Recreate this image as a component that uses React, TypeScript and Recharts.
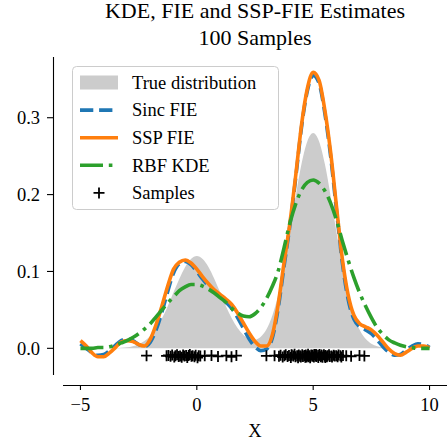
import { ComposedChart, Area, Line, Scatter, XAxis, YAxis, Legend } from 'recharts'

// evaluation grid shared by the density curves
const gridX = [
  -5, -4.75, -4.5, -4.25, -4, -3.75, -3.5, -3.25, -3, -2.75, -2.5, -2.25, -2, -1.75, -1.5, -1.25,
  -1, -0.75, -0.5, -0.25, 0, 0.25, 0.5, 0.75, 1, 1.25, 1.5, 1.75, 2, 2.25, 2.5, 2.75,
  3, 3.25, 3.5, 3.75, 4, 4.25, 4.5, 4.75, 5, 5.25, 5.5, 5.75, 6, 6.25, 6.5, 6.75,
  7, 7.25, 7.5, 7.75, 8, 8.25, 8.5, 8.75, 9, 9.25, 9.5, 9.75, 10,
]

const trueDensity = [
  0, 0, 0, 0, 0, 0.0001, 0.0003, 0.0006, 0.0013, 0.0027, 0.0053, 0.0095, 0.0162, 0.0259, 0.0389, 0.0549,
  0.0728, 0.0905, 0.1059, 0.1163, 0.12, 0.1163, 0.1059, 0.0905, 0.0728, 0.0549, 0.039, 0.0263, 0.0173, 0.0121, 0.0112, 0.015,
  0.025, 0.0429, 0.0701, 0.1068, 0.151, 0.1979, 0.24, 0.2694, 0.28, 0.2694, 0.24, 0.1979, 0.151, 0.1067, 0.0698, 0.0423,
  0.0237, 0.0123, 0.0059, 0.0026, 0.0011, 0.0004, 0.0001, 0, 0, 0, 0, 0, 0,
]

const sincFie = [
  0.006, 0.0, -0.006, -0.009, -0.008, -0.003, 0.004, 0.01, 0.012, 0.01, 0.005, 0.002, 0.008, 0.024, 0.047, 0.074,
  0.098, 0.11, 0.113, 0.109, 0.1, 0.09, 0.081, 0.073, 0.067, 0.06, 0.052, 0.04, 0.026, 0.012, 0.002, -0.003,
  -0.001, 0.014, 0.053, 0.107, 0.16, 0.222, 0.288, 0.335, 0.355, 0.345, 0.306, 0.25, 0.18, 0.112, 0.064, 0.038,
  0.028, 0.024, 0.019, 0.011, 0.002, -0.005, -0.009, -0.008, -0.002, 0.003, 0.006, 0.005, 0.001,
]

const sspFie = [
  0.01, 0.003, -0.006, -0.011, -0.011, -0.006, 0.001, 0.008, 0.01, 0.009, 0.005, 0.003, 0.012, 0.031, 0.055, 0.081,
  0.103, 0.112, 0.115, 0.111, 0.103, 0.093, 0.084, 0.076, 0.07, 0.064, 0.057, 0.046, 0.033, 0.02, 0.009, 0.003,
  0.003, 0.018, 0.058, 0.112, 0.163, 0.225, 0.291, 0.338, 0.359, 0.349, 0.31, 0.255, 0.185, 0.117, 0.07, 0.043,
  0.032, 0.028, 0.024, 0.017, 0.008, -0.001, -0.007, -0.009, -0.005, 0.0, 0.003, 0.003, 0.001,
]

const rbfKde = [
  0, 0, 0, 0.001, 0.001, 0.002, 0.004, 0.007, 0.01, 0.014, 0.019, 0.025, 0.032, 0.041, 0.05, 0.059,
  0.067, 0.075, 0.08, 0.083, 0.083, 0.081, 0.077, 0.072, 0.066, 0.06, 0.052, 0.046, 0.042, 0.041, 0.045, 0.053,
  0.065, 0.081, 0.101, 0.131, 0.163, 0.188, 0.206, 0.216, 0.219, 0.215, 0.205, 0.189, 0.167, 0.14, 0.115, 0.092,
  0.072, 0.055, 0.04, 0.027, 0.018, 0.011, 0.007, 0.004, 0.002, 0.001, 0, 0, 0,
]

// the 100 drawn samples (rug just under zero)
const sampleX = [
  -2.16, -1.3, -1.22, -1.13, -1.06, -0.97, -0.92, -0.85, -0.78, -0.72, -0.65, -0.59, -0.53, -0.46, -0.41, -0.35,
  -0.3, -0.23, -0.18, -0.1, -0.05, 0.03, 0.08, 0.15, 0.34, 0.63, 0.91, 1.27, 1.49, 1.7,
  2.99, 3.34, 3.53, 3.6, 3.69, 3.76, 3.82, 3.9, 3.96, 4.04, 4.08, 4.15, 4.2, 4.24, 4.31, 4.35,
  4.38, 4.44, 4.47, 4.53, 4.56, 4.62, 4.66, 4.68, 4.74, 4.78, 4.8, 4.85, 4.87, 4.92, 4.96, 4.98,
  5.03, 5.05, 5.1, 5.14, 5.16, 5.22, 5.25, 5.27, 5.33, 5.37, 5.4, 5.46, 5.5, 5.53, 5.59, 5.62,
  5.68, 5.71, 5.78, 5.81, 5.88, 5.92, 5.99, 6.05, 6.09, 6.17, 6.21, 6.28, 6.42, 6.63, 6.99, 7.2,
  4.07, 4.71, 5.12, 5.52, 4.45, 5.35,
]
const sampleY = [
  -0.0096, -0.0098, -0.0092, -0.0104, -0.0088, -0.0112, -0.0095, -0.0083, -0.0106, -0.0099, -0.0115, -0.0087, -0.0101, -0.0093, -0.0118, -0.0094,
  -0.0081, -0.0103, -0.0097, -0.0109, -0.009, -0.0121, -0.0095, -0.01, -0.0098, -0.0093, -0.0105, -0.0096, -0.0111, -0.0094,
  -0.0097, -0.0095, -0.0102, -0.0089, -0.0113, -0.0097, -0.0084, -0.0106, -0.0094, -0.0119, -0.0091, -0.01, -0.0078, -0.0108, -0.0096, -0.0124,
  -0.0087, -0.0099, -0.0112, -0.0082, -0.0105, -0.0093, -0.0117, -0.0088, -0.0101, -0.0076, -0.011, -0.0095, -0.0122, -0.0086, -0.0103, -0.0091,
  -0.0114, -0.008, -0.0099, -0.0107, -0.0089, -0.0119, -0.0094, -0.0079, -0.0108, -0.0097, -0.0115, -0.0085, -0.0102, -0.0092, -0.0111, -0.0096,
  -0.0083, -0.0106, -0.0099, -0.0114, -0.009, -0.0101, -0.0095, -0.0108, -0.0087, -0.0098, -0.0112, -0.0094, -0.0097, -0.0103, -0.0092, -0.0099,
  -0.0084, -0.0113, -0.0079, -0.0118, -0.0102, -0.0086,
]

const xTicks = [-5, 0, 5, 10]
const yTicks = [0, 0.1, 0.2, 0.3]
const legendLabels = ['True distribution', 'Sinc FIE', 'SSP FIE', 'RBF KDE', 'Samples']

const rows = gridX.map((x, i) => ({
  x,
  truth: trueDensity[i],
  sinc: sincFie[i],
  ssp: sspFie[i],
  rbf: rbfKde[i],
}))
const samples = sampleX.map((x, i) => ({ x, y: sampleY[i] }))

const FONT = '"Liberation Serif", "Times New Roman", serif'
const W = 447
const H = 441
const BLUE = '#1f77b4'
const ORANGE = '#ff7f0e'
const GREEN = '#2ca02c'
const LW = 3.6
const BLUE_DASH = '13.3 5.8'
const GREEN_DASH = '23 5.8 3.6 5.8'

function Plus(props: any) {
  const { cx, cy } = props
  if (cx == null || cy == null) return null
  const s = 5.5
  return (
    <path
      d={`M${cx - s},${cy}H${cx + s}M${cx},${cy - s}V${cy + s}`}
      stroke="#000"
      strokeWidth={1.8}
      fill="none"
    />
  )
}

function LegendBox() {
  const rowY = (i: number) => 16.5 + i * 27.6
  return (
    <svg width={208} height={145} style={{ display: 'block', fontFamily: FONT }}>
      <rect x={0.5} y={0.5} width={206} height={143} rx={4} fill="#fff" fillOpacity={0.8} stroke="#cccccc" />
      <rect x={8} y={rowY(0) - 7} width={38} height={14} fill="#cccccc" />
      <line x1={8} x2={46} y1={rowY(1)} y2={rowY(1)} stroke={BLUE} strokeWidth={LW} strokeDasharray={BLUE_DASH} />
      <line x1={8} x2={46} y1={rowY(2)} y2={rowY(2)} stroke={ORANGE} strokeWidth={LW} />
      <line x1={8} x2={46} y1={rowY(3)} y2={rowY(3)} stroke={GREEN} strokeWidth={LW} strokeDasharray={GREEN_DASH} />
      <Plus cx={27} cy={rowY(4)} />
      {legendLabels.map((t, i) => (
        <text key={t} x={60} y={rowY(i) + 6.3} fontSize={18.5} fill="#000">
          {t}
        </text>
      ))}
    </svg>
  )
}

const fmtX = (v: number) => (v < 0 ? `\u2212${Math.abs(v)}` : `${v}`)
const fmtY = (v: number) => v.toFixed(1)

export default function App() {
  return (
    <div style={{ position: 'fixed', left: 0, top: 0, width: W, height: H, background: '#fff', fontFamily: FONT }}>
      <ComposedChart
        width={W}
        height={H}
        data={rows}
        margin={{ top: 57, right: 0, bottom: 0, left: 0 }}
        style={{ fontFamily: FONT }}
      >
        <XAxis
          type="number"
          dataKey="x"
          domain={[-5.75, 10.75]}
          allowDataOverflow
          ticks={xTicks}
          interval={0}
          tickFormatter={fmtX}
          height={56}
          padding={{ left: 10, right: 0 }}
          axisLine={false}
          tickLine={{ stroke: '#000', strokeWidth: 1.1 }}
          tickSize={5}
          tickMargin={8}
          tick={{ fill: '#000', fontSize: 18.5, fontFamily: FONT }}
        />
        <YAxis
          type="number"
          dataKey="y"
          domain={[-0.0347, 0.379]}
          allowDataOverflow
          ticks={yTicks}
          interval={0}
          tickFormatter={fmtY}
          width={53}
          padding={{ top: 0, bottom: 10 }}
          axisLine={false}
          tickLine={{ stroke: '#000', strokeWidth: 1.1 }}
          tickSize={6}
          tickMargin={7}
          tick={{ fill: '#000', fontSize: 18.5, fontFamily: FONT }}
        />
        <Area
          dataKey="truth"
          type="monotone"
          baseValue={0}
          fill="#cccccc"
          fillOpacity={1}
          stroke="none"
          isAnimationActive={false}
        />
        <Line
          dataKey="sinc"
          type="monotone"
          stroke={BLUE}
          strokeWidth={LW}
          strokeDasharray={BLUE_DASH}
          dot={false}
          activeDot={false}
          isAnimationActive={false}
        />
        <Line
          dataKey="ssp"
          type="monotone"
          stroke={ORANGE}
          strokeWidth={LW}
          dot={false}
          activeDot={false}
          isAnimationActive={false}
        />
        <Line
          dataKey="rbf"
          type="monotone"
          stroke={GREEN}
          strokeWidth={LW}
          strokeDasharray={GREEN_DASH}
          dot={false}
          activeDot={false}
          isAnimationActive={false}
        />
        <Scatter data={samples} dataKey="y" shape={Plus} isAnimationActive={false} />
        <Legend
          layout="vertical"
          align="center"
          verticalAlign="middle"
          content={() => <LegendBox />}
          wrapperStyle={{ left: 72, top: 66, width: 208, height: 145, right: 'auto', bottom: 'auto' }}
        />
      </ComposedChart>
      {/* title, x label and offset spines */}
      <svg
        width={W}
        height={H}
        style={{ position: 'absolute', left: 0, top: 0, pointerEvents: 'none', fontFamily: FONT }}
      >
        <text x={255} y={17.5} textAnchor="middle" fontSize={22} fill="#000">
          KDE, FIE and SSP-FIE Estimates
        </text>
        <text x={255} y={45} textAnchor="middle" fontSize={22} fill="#000">
          100 Samples
        </text>
        <text x={255} y={436.5} textAnchor="middle" fontSize={18.5} fill="#000">
          X
        </text>
        <line x1={53.5} x2={53.5} y1={57} y2={375} stroke="#000" strokeWidth={1.1} />
        <line x1={63} x2={447} y1={385.5} y2={385.5} stroke="#000" strokeWidth={1.1} />
      </svg>
    </div>
  )
}
